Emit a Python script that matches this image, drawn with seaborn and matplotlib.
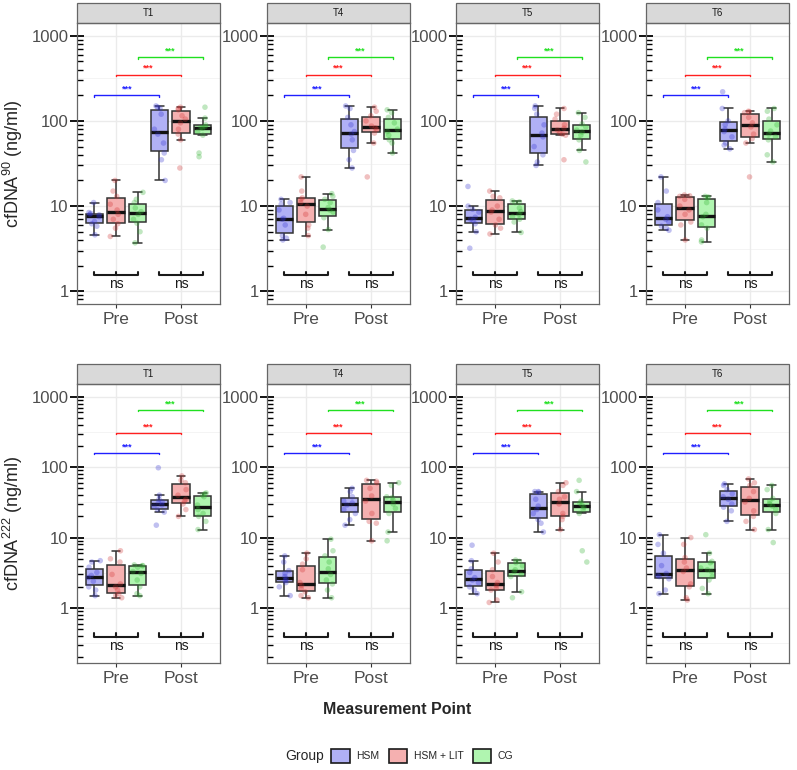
import numpy as np
import pandas as pd
import seaborn as sns
import matplotlib.pyplot as plt
from matplotlib.patches import Patch, Rectangle
from matplotlib.ticker import FixedLocator, LogLocator, NullFormatter

sns.set_theme(style="white")
plt.rcParams['font.family'] = ['Liberation Sans', 'DejaVu Sans']
plt.rcParams['mathtext.default'] = 'regular'

groups = ["HSM", "HSM + LIT", "CG"]
phases = ["Pre", "Post"]
timepoints = ["T1", "T4", "T5", "T6"]

# cfDNA 90 (top row)
c90_t1_pre = {"HSM": [4.6, 5.8, 6.2, 6.6, 7.5, 7.9, 8.0, 8.2, 8.4, 11.0],
              "HSM + LIT": [4.4, 5.5, 6.2, 7.0, 8.0, 9.0, 10.5, 13.0, 15.0, 20.0],
              "CG": [3.7, 5.0, 6.3, 7.0, 8.0, 8.6, 9.5, 11.0, 12.0, 14.5]}
c90_t1_post = {"HSM": [20, 35, 42, 55, 70, 80, 120, 140, 145, 150],
               "HSM + LIT": [28, 60, 70, 80, 95, 105, 115, 135, 140, 145],
               "CG": [38, 42, 68, 75, 82, 84, 86, 90, 108, 145]}
c90_t4_pre = {"HSM": [4.0, 4.2, 4.5, 6.0, 7.0, 7.2, 9.0, 10.5, 11.0, 12.0],
              "HSM + LIT": [4.5, 5.5, 6.0, 8.0, 10.0, 11.0, 12.0, 12.5, 15.0, 22.0],
              "CG": [3.3, 5.3, 7.3, 8.5, 9.0, 9.6, 11.0, 12.0, 13.0, 14.0]}
c90_t4_post = {"HSM": [28, 35, 45, 60, 70, 75, 90, 110, 140, 150],
               "HSM + LIT": [22, 55, 72, 80, 83, 87, 100, 115, 130, 145],
               "CG": [42, 55, 60, 68, 75, 80, 95, 110, 125, 135]}
c90_t5_pre = {"HSM": [3.2, 5.0, 6.2, 6.8, 7.0, 7.4, 8.5, 9.2, 10.0, 17.0],
              "HSM + LIT": [4.7, 5.5, 6.0, 7.0, 8.5, 9.0, 10.0, 12.5, 13.0, 15.0],
              "CG": [4.9, 6.5, 7.0, 7.5, 8.0, 8.6, 9.5, 11.0, 11.2, 11.5]}
c90_t5_post = {"HSM": [30, 33, 40, 50, 65, 72, 90, 120, 140, 150],
               "HSM + LIT": [35, 68, 70, 72, 78, 82, 90, 105, 120, 140],
               "CG": [33, 45, 60, 68, 74, 78, 85, 92, 110, 125]}
c90_t6_pre = {"HSM": [5.2, 5.5, 5.8, 6.5, 7.0, 7.5, 9.0, 11.0, 15.0, 22.0],
              "HSM + LIT": [4.0, 6.0, 6.5, 8.0, 9.0, 10.0, 12.0, 13.0, 13.2, 13.5],
              "CG": [3.8, 4.0, 5.5, 6.0, 7.5, 8.0, 11.0, 12.5, 12.8, 13.0]}
c90_t6_post = {"HSM": [47, 52, 55, 65, 75, 80, 90, 100, 140, 220],
               "HSM + LIT": [22, 55, 62, 70, 85, 95, 110, 125, 128, 130],
               "CG": [33, 40, 60, 65, 70, 76, 90, 105, 130, 140]}

# cfDNA 222 (bottom row)
c222_t1_pre = {"HSM": [1.5, 1.8, 2.0, 2.4, 2.7, 2.9, 3.2, 3.8, 4.5, 4.7],
               "HSM + LIT": [1.4, 1.5, 1.6, 1.8, 2.0, 2.2, 3.0, 4.5, 5.0, 6.5],
               "CG": [1.5, 1.6, 2.0, 2.5, 3.1, 3.3, 3.8, 4.0, 4.0, 4.1]}
c222_t1_post = {"HSM": [15, 23, 25, 28, 29, 31, 32, 35, 40, 98],
                "HSM + LIT": [20, 25, 30, 33, 35, 40, 48, 60, 65, 75],
                "CG": [13, 17, 20, 22, 25, 29, 38, 40, 42, 43]}
c222_t4_pre = {"HSM": [1.5, 2.0, 2.3, 2.45, 2.6, 2.8, 3.1, 3.4, 4.5, 5.5],
               "HSM + LIT": [1.4, 1.5, 1.7, 1.9, 2.1, 2.3, 3.5, 4.2, 5.0, 6.0],
               "CG": [1.4, 1.8, 2.2, 2.5, 3.0, 3.6, 4.5, 5.5, 6.5, 9.5]}
c222_t4_post = {"HSM": [15, 18, 22, 25, 29, 31, 33, 38, 45, 50],
                "HSM + LIT": [9, 16, 17, 22, 33, 39, 50, 60, 63, 65],
                "CG": [9, 12, 22, 26, 30, 34, 37, 38, 55, 60]}
c222_t5_pre = {"HSM": [1.6, 1.8, 2.0, 2.3, 2.5, 2.7, 3.2, 3.6, 4.7, 7.8],
               "HSM + LIT": [1.2, 1.3, 1.8, 1.9, 2.1, 2.3, 2.8, 3.5, 4.5, 6.0],
               "CG": [1.4, 1.7, 2.8, 3.0, 3.3, 3.5, 4.0, 4.4, 4.6, 4.8]}
c222_t5_post = {"HSM": [12, 16, 18, 22, 25, 28, 35, 44, 45, 45],
                "HSM + LIT": [13, 18, 20, 22, 30, 35, 38, 45, 55, 60],
                "CG": [4.5, 6.5, 22, 25, 27, 29, 31, 33, 45, 65]}
c222_t6_pre = {"HSM": [1.6, 1.8, 2.6, 2.8, 2.9, 3.1, 4.0, 6.0, 8.0, 11.0],
               "HSM + LIT": [1.3, 1.4, 2.0, 2.2, 3.3, 3.7, 4.5, 5.2, 8.0, 10.0],
               "CG": [1.6, 1.9, 2.5, 2.8, 3.3, 3.5, 3.7, 4.4, 4.6, 6.0, 11.0]}
c222_t6_post = {"HSM": [17, 24, 27, 30, 35, 38, 42, 48, 55, 58],
                "HSM + LIT": [13, 17, 20, 24, 32, 36, 45, 55, 60, 68],
                "CG": [8.5, 13, 22, 25, 28, 30, 33, 36, 48, 55]}

c90 = {"T1": (c90_t1_pre, c90_t1_post), "T4": (c90_t4_pre, c90_t4_post),
       "T5": (c90_t5_pre, c90_t5_post), "T6": (c90_t6_pre, c90_t6_post)}
c222 = {"T1": (c222_t1_pre, c222_t1_post), "T4": (c222_t4_pre, c222_t4_post),
        "T5": (c222_t5_pre, c222_t5_post), "T6": (c222_t6_pre, c222_t6_post)}

# y level of the coloured *** brackets and of the ns brackets
sig_levels = {"90": [200, 350, 560], "222": [160, 310, 650]}
ns_levels = {"90": 1.55, "222": 0.39}

rows = []
for marker, src in [("90", c90), ("222", c222)]:
    for tp, pair in src.items():
        for ph, d in zip(phases, pair):
            for g in groups:
                for v in d[g]:
                    rows.append((marker, tp, ph, g, v))
df = pd.DataFrame(rows, columns=["marker", "tp", "phase", "group", "value"])
offsets = {"HSM": -1 / 3, "HSM + LIT": 0.0, "CG": 1 / 3}
df["pos"] = df["phase"].map({"Pre": 0, "Post": 1}) + df["group"].map(offsets)

box_colors = {"HSM": "#B0B0F5", "HSM + LIT": "#F5B0B0", "CG": "#B0F5B0"}
pt_colors = {"HSM": "#3030D0", "HSM + LIT": "#D03030", "CG": "#30B030"}
line_colors = {"HSM": "#2020FF", "HSM + LIT": "#FF2020", "CG": "#20E020"}

np.random.seed(3)
W, H = 797, 770
fig = plt.figure(figsize=(W / 100, H / 100), dpi=100)
lefts = [77, 267, 456, 646]
aw = 143
rows_px = [(23, 304), (384, 663)]
ylims = [(10 ** -0.15, 10 ** 3.15), (10 ** -0.78, 10 ** 3.18)]
ylabels = [r"cfDNA$^{90}$ (ng/ml)", r"cfDNA$^{222}$ (ng/ml)"]

for r, marker in enumerate(["90", "222"]):
    top, bot = rows_px[r]
    ah = bot - top
    for c, tp in enumerate(timepoints):
        ax = fig.add_axes([lefts[c] / W, 1 - bot / H, aw / W, ah / H])
        sub = df[(df.marker == marker) & (df.tp == tp)]
        sns.boxplot(data=sub, x="pos", y="value", hue="group", hue_order=groups,
                    palette=box_colors, native_scale=True, log_scale=(False, True),
                    dodge=False, width=0.8, showfliers=False, saturation=1,
                    linecolor="#333333", linewidth=1.1,
                    medianprops=dict(color="#111111", linewidth=2.4),
                    legend=False, ax=ax)
        sns.stripplot(data=sub, x="pos", y="value", hue="group", hue_order=groups,
                      palette=pt_colors, native_scale=True, dodge=False,
                      jitter=0.28, size=4, alpha=0.3, legend=False, ax=ax)
        ax.set_ylim(*ylims[r])
        ax.set_xlim(-0.6, 1.6)
        ax.set_xticks([0, 1])
        ax.set_xticklabels(phases)
        ax.yaxis.set_major_locator(FixedLocator([1, 10, 100, 1000]))
        ax.set_yticklabels(["1", "10", "100", "1000"])
        ax.yaxis.set_minor_locator(LogLocator(base=10, subs=np.arange(2, 10)))
        ax.yaxis.set_minor_formatter(NullFormatter())
        ax.set_axisbelow(True)
        ax.grid(axis="both", which="major", color="#EBEBEB", lw=1.0)
        for k in range(-1, 4):
            ax.axhline(10 ** (k + 0.5), color="#F3F3F3", lw=0.6, zorder=0)
        ax.tick_params(axis="y", which="major", direction="inout", length=10,
                       width=1.3, color="black", labelsize=12,
                       labelcolor="#4D4D4D", pad=1, left=True)
        ax.tick_params(axis="y", which="minor", direction="in", length=4,
                       width=1.0, color="black", left=True)
        ax.tick_params(axis="x", which="major", direction="out", length=3,
                       width=0.8, color="#333333", labelsize=12.5,
                       labelcolor="#4D4D4D", pad=3, bottom=True)
        for s in ax.spines.values():
            s.set_color("#666666")
            s.set_linewidth(0.9)
        ax.set_xlabel("")
        ax.set_ylabel(ylabels[r] if c == 0 else "", fontsize=13, labelpad=5)

        # facet strip
        sh = 20 / ah
        ax.add_patch(Rectangle((0, 1), 1, sh, transform=ax.transAxes,
                               facecolor="#D9D9D9", edgecolor="#666666",
                               lw=0.9, clip_on=False))
        ax.text(0.5, 1 + sh / 2, tp, transform=ax.transAxes, ha="center",
                va="center", fontsize=7, color="#1A1A1A")

        # Pre vs Post brackets per group
        for g, yv in zip(groups, sig_levels[marker]):
            x1, x2 = offsets[g], 1 + offsets[g]
            tip = 10 ** -0.02
            ax.plot([x1, x1, x2, x2], [yv * tip, yv, yv, yv * tip],
                    color=line_colors[g], lw=1.0, clip_on=False)
            ax.text((x1 + x2) / 2, yv * 10 ** 0.02, "***", color=line_colors[g],
                    ha="center", va="bottom", fontsize=6.5, fontweight="bold")

        # between-group ns brackets
        yb = ns_levels[marker]
        up = 10 ** 0.04 if r == 0 else 10 ** 0.05
        for p in [0, 1]:
            ax.plot([p - 0.34, p - 0.34, p + 0.34, p + 0.34],
                    [yb * up, yb, yb, yb * up], color="#1A1A1A", lw=1.5)
            ax.plot([p, p], [yb, yb * up], color="#1A1A1A", lw=1.5)
            ax.text(p, yb / (10 ** 0.025), "ns", ha="center", va="top",
                    fontsize=10, color="#1A1A1A")

fig.text(397 / W, 1 - 710 / H, "Measurement Point", ha="center", va="center",
         fontsize=11.5, fontweight="bold")
fig.text(324 / W, 1 - 756 / H, "Group", ha="right", va="center", fontsize=10)
handles = [Patch(facecolor=box_colors[g], edgecolor="#1A1A1A", lw=1.2) for g in groups]
fig.legend(handles, groups, loc="center left", bbox_to_anchor=(331 / W, 1 - 756 / H),
           ncol=3, frameon=False, fontsize=7.5, handlelength=1.8, handleheight=1.7,
           handletextpad=0.6, columnspacing=0.9, borderaxespad=0, borderpad=0)

fig.savefig("out.png", dpi=100)
